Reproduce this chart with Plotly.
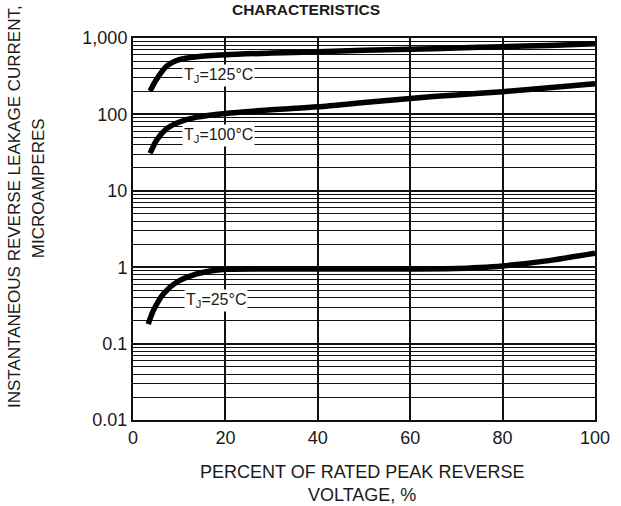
import numpy as np
import plotly.graph_objects as go

# ---- data ----
x_125 = [3.7, 5.1, 7.3, 10.2, 13.8, 20, 30, 40, 50, 60, 70, 80, 90, 100]
y_125 = [202, 288, 430, 526, 569, 604, 635, 660, 690, 710, 740, 770, 800, 840]

x_100 = [3.7, 5.1, 7.3, 10.2, 13.8, 20, 30, 40, 50, 60, 70, 80, 90, 100]
y_100 = [31, 46, 65, 80, 92, 103, 115, 126, 143, 162, 180, 198, 224, 252]

x_25 = [3.3, 4.4, 6.6, 9.5, 13, 16.7, 20, 30, 40, 50, 60, 70, 75, 80, 90, 100]
y_25 = [0.18, 0.27, 0.45, 0.64, 0.79, 0.89, 0.94, 0.95, 0.95, 0.95, 0.95, 0.96, 0.99, 1.04, 1.22, 1.52]

labels = ["T<sub>J</sub>=125°C", "T<sub>J</sub>=100°C", "T<sub>J</sub>=25°C"]
label_x = [18.4, 18.4, 17.9]
label_y = [326, 53.7, 0.372]

y_tickvals = [0.01, 0.1, 1, 10, 100, 1000]
y_ticktext = ["0.01", "0.1", "1", "10", "100", "1,000"]
x_tickvals = [0, 20, 40, 60, 80, 100]

FONT = "Liberation Sans, Arial, sans-serif"
TXT = "#1a1a1a"

fig = go.Figure()
for xs, ys in [(x_125, y_125), (x_100, y_100), (x_25, y_25)]:
    fig.add_trace(go.Scatter(x=xs, y=ys, mode="lines",
                             line=dict(color="black", width=5.5, shape="spline", smoothing=0.8),
                             showlegend=False, hoverinfo="skip"))

# annotations on a log axis take log10 positions
for t, lx, ly in zip(labels, label_x, label_y):
    fig.add_annotation(x=lx, y=float(np.log10(ly)), yref="y", xref="x", text=t, showarrow=False,
                       bgcolor="white", font=dict(family=FONT, size=16, color=TXT),
                       borderpad=1, xanchor="center", yanchor="middle")

fig.update_xaxes(range=[0, 100], tickvals=x_tickvals, ticks="", showgrid=True,
                 gridcolor="#111", gridwidth=1.5, showline=True, mirror=True,
                 linecolor="#111", linewidth=2, zeroline=False,
                 tickfont=dict(family=FONT, size=18, color=TXT))
fig.update_yaxes(type="log", range=[-2, 3], tickvals=y_tickvals, ticktext=y_ticktext,
                 ticks="", showgrid=True, gridcolor="#111", gridwidth=1.5,
                 minor=dict(dtick="D1", showgrid=True, gridcolor="#111", gridwidth=1.3, ticks=""),
                 showline=True, mirror=True, linecolor="#111", linewidth=2, zeroline=False,
                 tickfont=dict(family=FONT, size=18, color=TXT))

fig.add_annotation(xref="paper", yref="paper", x=-0.2576, y=0.560,
                   text="INSTANTANEOUS REVERSE LEAKAGE CURRENT,",
                   textangle=-90, showarrow=False, xanchor="center", yanchor="middle",
                   font=dict(family=FONT, size=17, color=TXT))
fig.add_annotation(xref="paper", yref="paper", x=-0.2056, y=0.607,
                   text="MICROAMPERES",
                   textangle=-90, showarrow=False, xanchor="center", yanchor="middle",
                   font=dict(family=FONT, size=17, color=TXT))
fig.add_annotation(xref="paper", yref="paper", x=0.4957, y=-0.165,
                   text="PERCENT OF RATED PEAK REVERSE<br>VOLTAGE, %",
                   showarrow=False, xanchor="center", yanchor="middle",
                   font=dict(family=FONT, size=18, color=TXT))

fig.update_layout(
    width=621, height=506,
    margin=dict(l=133, r=26, t=38, b=86),
    paper_bgcolor="white", plot_bgcolor="white",
    title=dict(text="<b>CHARACTERISTICS</b>", x=306/621, xanchor="center",
               y=1 - 10/506, yanchor="middle",
               font=dict(family=FONT, size=15.5, color=TXT)),
)

fig.write_html("out.html", config={"displayModeBar": False},
               post_script="document.body.style.margin='0';document.body.style.overflow='hidden';")
